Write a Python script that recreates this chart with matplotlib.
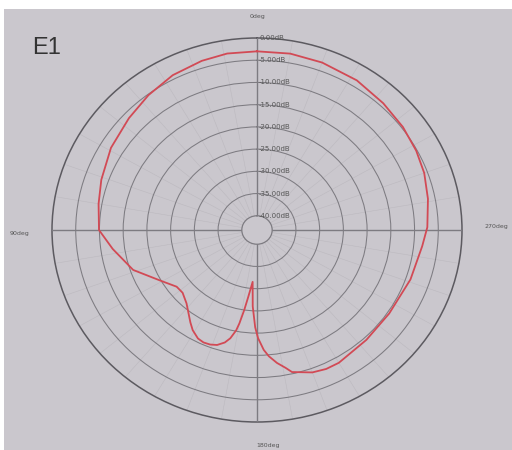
import numpy as np
import matplotlib
matplotlib.use("Agg")
import matplotlib.pyplot as plt
from matplotlib.patches import Rectangle
from matplotlib.transforms import offset_copy

# measured pattern (angle in deg, counter-clockwise from top; level in dB)
angles_deg = [0, 9, 17, 27, 37, 47, 59, 71, 80, 90,
              98, 109, 119, 127, 132, 138, 146, 149, 153, 156,
              159, 162, 165, 167, 169, 170, 171.5, 173, 175.5, 177,
              179, 180.5, 183, 185, 188, 191, 193, 200, 205, 210,
              223, 236, 251, 264, 271, 281, 290, 298, 307, 317,
              328, 340, 350, 360]
level_db = [-3.0, -3.0, -3.4, -4.1, -5.2, -6.3, -7.3, -8.5, -9.3, -9.9,
            -12.5, -15.6, -19.8, -22.0, -22.1, -21.0, -18.1, -16.9, -15.8, -15.5,
            -15.6, -16.0, -17.0, -18.2, -20.2, -21.9, -25.0, -28.0, -31.5, -26.0,
            -21.3, -18.9, -16.2, -14.7, -13.0, -11.6, -10.4, -9.1, -8.7, -8.7,
            -9.4, -9.6, -9.0, -8.2, -7.3, -6.5, -5.7, -5.2, -4.7, -4.2,
            -3.5, -3.1, -2.9, -3.0]

ring_db = [0, -5, -10, -15, -20, -25, -30, -35, -40]
ring_labels = ["0.00dB", "-5.00dB", "-10.00dB", "-15.00dB", "-20.00dB",
               "-25.00dB", "-30.00dB", "-35.00dB", "-40.00dB"]
axis_angles = [0, 90, 180, 270]
axis_labels = ["0deg", "90deg", "180deg", "270deg"]

BG = "#cac7cd"
RING = "#7d7b81"
SPOKE = "#bcb9bf"
CURVE = "#d24a55"
TXT = "#555555"

fig = plt.figure(figsize=(5.12, 4.5), dpi=100, facecolor=BG)
# white margins at top and left of the screenshot
fig.add_artist(Rectangle((0, 1 - 9 / 450), 1, 9 / 450, transform=fig.transFigure,
                         facecolor="white", edgecolor="none", zorder=-5))
fig.add_artist(Rectangle((0, 0), 4 / 512, 1, transform=fig.transFigure,
                         facecolor="white", edgecolor="none", zorder=-5))

ax = fig.add_axes([52 / 512, 28 / 450, 410 / 512, 384 / 450], projection="polar")
ax.set_aspect("auto")
ax.set_facecolor(BG)
ax.set_theta_zero_location("N")
ax.set_theta_direction(1)
ax.set_rlim(-40, 0)
ax.set_rorigin(-43.2)

# rings
ax.set_rgrids(ring_db[1:-1], labels=[""] * (len(ring_db) - 2))
ax.yaxis.grid(True, color=RING, lw=0.75)
ax.spines["polar"].set_color("#5c5a60")
ax.spines["polar"].set_linewidth(1.1)
ax.spines["inner"].set_color(RING)
ax.spines["inner"].set_linewidth(0.9)
ax.tick_params(axis="y", length=0)

# faint spokes every 10 degrees
ax.set_thetagrids(list(range(0, 360, 10)), labels=[])
ax.xaxis.grid(True, color=SPOKE, lw=0.4)
ax.tick_params(axis="x", length=0)

# main cross axes
for a in axis_angles:
    ax.plot([np.deg2rad(a)] * 2, [-40, 0], color=RING, lw=1.0, zorder=3)

# axis direction labels
label_pos = {"0deg": (0.502, 1.057), "90deg": (-0.080, 0.492),
             "180deg": (0.527, -0.060), "270deg": (1.083, 0.510)}
for lab in axis_labels:
    x, y = label_pos[lab]
    ax.text(x, y, lab, transform=ax.transAxes, ha="center", va="center",
            fontsize=4.5, color=TXT, clip_on=False)

# ring value labels along the 0deg axis
off = offset_copy(ax.transData, fig=fig, x=1.5, y=0, units="points")
for r, lab in zip(ring_db, ring_labels):
    ax.text(0, r, lab, transform=off, ha="left", va="center",
            fontsize=5, color=TXT, zorder=4)

ax.plot(np.deg2rad(angles_deg), level_db, color=CURVE, lw=1.3, zorder=5,
        solid_joinstyle="round")

fig.text(32 / 512, 1 - 48 / 450, "E1", fontsize=17, color="#333333",
         family="Liberation Sans", va="center", ha="left")

fig.savefig("out.png", dpi=100, facecolor=BG)
